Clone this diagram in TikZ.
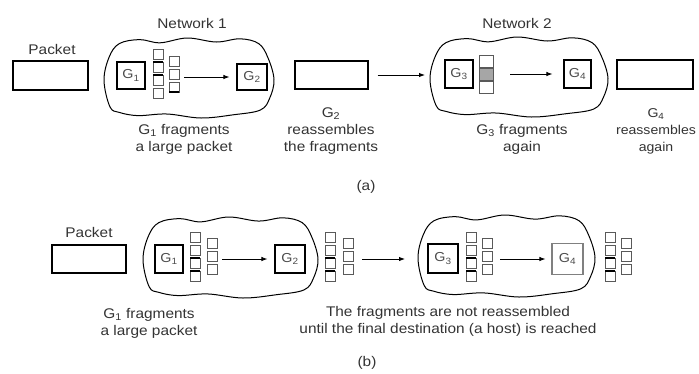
\documentclass[tikz,border=0pt]{standalone}
\usepackage{fontspec}
\setmainfont{Liberation Sans}[FakeStretch=1.1]
\usetikzlibrary{arrows.meta}
\newcommand\fragcol[3]{\foreach \ii in {1,...,#3}{\draw[frag] (#1,{#2+13*(\ii-1)}) rectangle ++(10,10);}}
\newcommand\fragbar[2]{\draw[line width=1.6pt, black] (#1,#2) -- ++(10,0);}
\begin{document}
\begin{tikzpicture}[x=1pt,y=-1pt,
  every node/.style={font=\fontsize{14}{17}\selectfont, text=black!80},
  box/.style={draw=black, line width=1.1pt, inner sep=0pt},
  gbox/.style={box, font=\fontsize{13}{15}\selectfont, text=black!70},
  lab/.style={align=center},
  arr/.style={line width=0.9pt, -{Latex[length=6pt,width=4.5pt]}},
  frag/.style={draw=black!65, line width=0.8pt},
  netcloud/.pic={\draw[line width=1pt, black] plot[smooth cycle, tension=0.6] coordinates {(0.035,0.86) (0,0.53) (0.03,0.24) (0.09,0.07) (0.21,0.02) (0.33,0.06) (0.49,0) (0.66,0.05) (0.8,0.01) (0.91,0.07) (0.965,0.25) (1,0.52) (0.975,0.75) (0.92,0.9) (0.76,0.96) (0.57,1) (0.37,0.95) (0.2,0.97) (0.09,0.93)};}
]
\useasboundingbox (0,0) rectangle (699,373);

% ---------------- (a) ----------------
\pic[xscale=170, yscale=80] at (104,38) {netcloud};
\pic[xscale=178, yscale=80] at (430,37) {netcloud};

\node (net1) at (192,23) {Network 1};
\node (net2) at (517,23) {Network 2};
\node (pkt1) at (52,49) {Packet};

\node[box, minimum width=75pt, minimum height=29pt] (pa1) at (50.5,75.5) {};
\node[gbox, minimum width=28pt, minimum height=27pt] (ga1) at (131,75.5) {G\textsubscript{1}};
\node[gbox, minimum width=30pt, minimum height=26pt] (ga2) at (252,77) {G\textsubscript{2}};
\node[box, minimum width=73pt, minimum height=28pt] (pa2) at (331.5,75) {};
\node[gbox, minimum width=28pt, minimum height=28pt] (ga3) at (459,74) {G\textsubscript{3}};
\node[gbox, minimum width=27pt, minimum height=28pt] (ga4) at (577.5,74) {G\textsubscript{4}};
\node[box, minimum width=76pt, minimum height=29pt] (pa3) at (655,74.5) {};

\fragcol{153}{49}{4}
\fragcol{169}{56}{3}
\fragbar{153}{62}
\fragbar{153}{75}
\fragbar{169}{92}

\draw[frag] (479,55) rectangle ++(14,12);
\draw[frag, fill=black!35] (479,68) rectangle ++(14,12);
\draw[frag] (479,81) rectangle ++(14,12);

\coordinate (a1s) at (184,77);
\draw[arr, shorten >=7pt] (a1s) -- (ga2);
\coordinate (a2e) at (425,75);
\draw[arr, shorten <=9pt] (pa2.east) -- (a2e);
\coordinate (a3s) at (510,74);
\draw[arr, shorten >=11pt] (a3s) -- (ga4);

\node[lab] (t1) at (184,139) {G\textsubscript{1} fragments\\a large packet};
\node[lab] (t2) at (331,131) {G\textsubscript{2}\\reassembles\\the fragments};
\node[lab] (t3) at (522,139) {G\textsubscript{3} fragments\\again};
\node[lab, font=\fontsize{12.8}{17}\selectfont] (t4) at (656,131) {G\textsubscript{4}\\reassembles\\again};
\node (capa) at (366,187) {(a)};

% ---------------- (b) ----------------
\pic[xscale=175, yscale=81] at (143,217) {netcloud};
\pic[xscale=177, yscale=82] at (418,215) {netcloud};

\node (pkt2) at (89,232) {Packet};
\node[box, minimum width=74pt, minimum height=28pt] (pb1) at (89,259) {};
\node[gbox, minimum width=28pt, minimum height=28pt] (gb1) at (169,259) {G\textsubscript{1}};
\node[gbox, minimum width=30pt, minimum height=28pt] (gb2) at (290,259) {G\textsubscript{2}};
\node[gbox, minimum width=30pt, minimum height=29pt] (gb3) at (443,258.5) {G\textsubscript{3}};
\node[gbox, draw=black!50, minimum width=31pt, minimum height=31pt] (gb4) at (567.5,259) {G\textsubscript{4}};

\foreach \xa/\xb in {190/207, 325/343, 466/482, 605/621}{
  \fragcol{\xa}{232}{4}
  \fragcol{\xb}{238}{3}
  \fragbar{\xa}{258}
  \fragbar{\xa}{271}
}

\coordinate (b1s) at (222,259);
\draw[arr, shorten >=7pt] (b1s) -- (gb2);
\coordinate (b2s) at (362,259);
\coordinate (b2e) at (405,259);
\draw[arr] (b2s) -- (b2e);
\coordinate (b3s) at (500,259);
\draw[arr, shorten >=6pt] (b3s) -- (gb4);

\node[lab] (t5) at (149,323) {G\textsubscript{1} fragments\\a large packet};
\node[lab] (t6) at (448,321) {The fragments are not reassembled\\until the final destination (a host) is reached};
\node (capb) at (367,363) {(b)};
\end{tikzpicture}
\end{document}
